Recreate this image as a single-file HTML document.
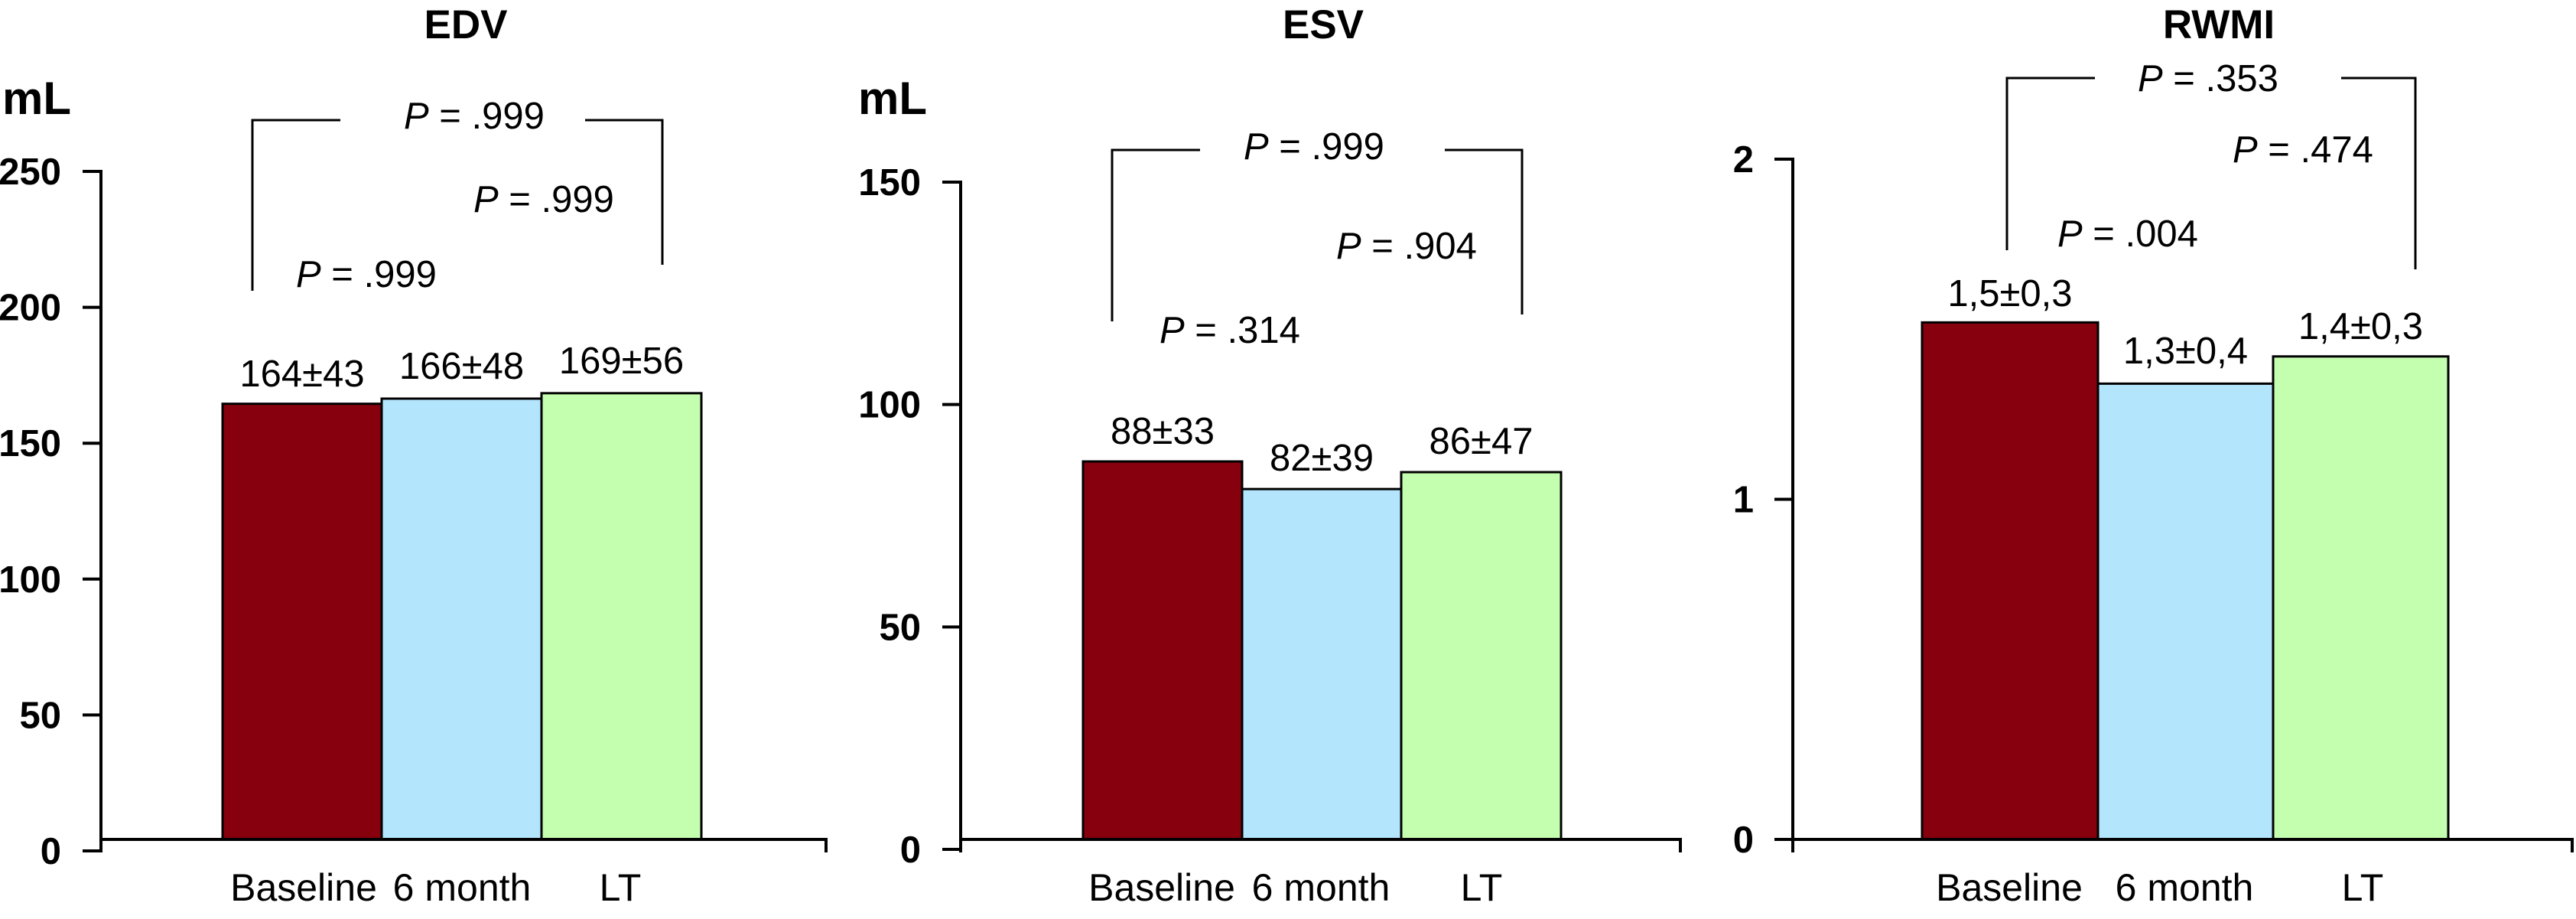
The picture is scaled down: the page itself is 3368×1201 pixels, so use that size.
<!DOCTYPE html>
<html><head><meta charset="utf-8">
<style>
html,body{margin:0;padding:0;background:#fff;}
svg{display:block;font-family:"Liberation Sans",Arial,sans-serif;}
</style></head>
<body>
<svg id="chart" width="3368" height="1201" viewBox="0 0 3368 1201" xmlns="http://www.w3.org/2000/svg"></svg>
<script>
// ---- data ----
const categories = ["Baseline", "6 month", "LT"];
const edvValues = [164.5, 166.4, 168.4];
const edvLabels = ["164±43", "166±48", "169±56"];
const edvTicks = [0, 50, 100, 150, 200, 250];
const edvPLabels = [".999", ".999", ".999"];
const esvValues = [87.2, 81.0, 84.8];
const esvLabels = ["88±33", "82±39", "86±47"];
const esvTicks = [0, 50, 100, 150];
const esvPLabels = [".999", ".904", ".314"];
const rwmiValues = [1.52, 1.34, 1.42];
const rwmiLabels = ["1,5±0,3", "1,3±0,4", "1,4±0,3"];
const rwmiTicks = [0, 1, 2];
const rwmiPLabels = [".353", ".474", ".004"];
const colors = ["#87000e", "#b3e5fc", "#c4ffb0"];

const svg = document.getElementById('chart');
const NS = 'http://www.w3.org/2000/svg';
function mk(tag, attrs, parent){
  const e = document.createElementNS(NS, tag);
  for (const k in attrs) e.setAttribute(k, attrs[k]);
  (parent||svg).appendChild(e);
  return e;
}

const panels = [
  {key:'edv', title:'EDV', unit:true, values:edvValues, labels:edvLabels, ticks:edvTicks, pl:edvPLabels,
   ax:132, axEnd:1080, base:1097, y0:1112, ytop:224, vmax:250, tx:80, unitX:3, titleX:609,
   bars:[291,499,708,917], catX:[397,604,811], labY:[505,495,488],
   br:{lx:330, top:157, lb:380, lh:445, rs:765, rx:866, rb:346},
   p:[[528,168],[619,277],[387,375]]},
  {key:'esv', title:'ESV', unit:true, values:esvValues, labels:esvLabels, ticks:esvTicks, pl:esvPLabels,
   ax:1256, axEnd:2197, base:1097, y0:1110, ytop:238, vmax:150, tx:1204, unitX:1122, titleX:1730,
   bars:[1416,1624,1832,2041], catX:[1519,1727,1937], labY:[580,615,593],
   br:{lx:1454, top:196, lb:420, lh:1569, rs:1889, rx:1990, rb:411},
   p:[[1626,208],[1747,338],[1516,448]]},
  {key:'rwmi', title:'RWMI', unit:false, values:rwmiValues, labels:rwmiLabels, ticks:rwmiTicks, pl:rwmiPLabels,
   ax:2344, axEnd:3363, base:1097, y0:1097, ytop:208, vmax:2, tx:2293, unitX:0, titleX:2901,
   bars:[2513,2743,2972,3201], catX:[2627,2856,3089], labY:[400,475,443],
   br:{lx:2624, top:102, lb:327, lh:2739, rs:3061, rx:3158, rb:352},
   p:[[2795,119],[2919,212],[2690,322]]}
];

panels.forEach(P => {
  const g = mk('g', {});
  
  
  const y = v => P.y0 - (P.y0 - P.ytop) * v / P.vmax;

  const t = mk('text', {x:P.titleX, y:50, 'font-size':53, 'font-weight':'bold', 'text-anchor':'middle'}, g);
  t.textContent = P.title;
  
  

  if (P.unit) {
    const u = mk('text', {x:P.unitX, y:149, 'font-size':60, 'font-weight':'bold'}, g);
    u.textContent = 'mL';
    
    
  }

  P.values.forEach((v, i) => {
    const top = y(v);
    const r = mk('rect', {x:P.bars[i], y:top, width:P.bars[i+1]-P.bars[i], height:P.base-top,
      fill:colors[i], stroke:'#000', 'stroke-width':3}, g);
    
    
    const lt = mk('text', {x:(P.bars[i]+P.bars[i+1])/2, y:P.labY[i], 'font-size':49, 'text-anchor':'middle'}, g);
    lt.textContent = P.labels[i];
    
    
    const ct = mk('text', {x:P.catX[i], y:1177, 'font-size':50, 'text-anchor':'middle'}, g);
    ct.textContent = categories[i];
    
    
  });

  const ya = mk('line', {x1:P.ax, y1:P.ytop-2, x2:P.ax, y2:P.y0+2, stroke:'#000', 'stroke-width':4}, g);
  
  
  const xa = mk('path', {d:`M${P.ax},${P.base}H${P.axEnd}V1114M${P.ax},${P.base}V1114`, fill:'none', stroke:'#000', 'stroke-width':4}, g);
  
  

  P.ticks.forEach(tv => {
    const ty = y(tv);
    const tk = mk('line', {x1:P.ax-24, y1:ty, x2:P.ax, y2:ty, stroke:'#000', 'stroke-width':4}, g);
    
    
    const tl = mk('text', {x:P.tx, y:ty+17, 'font-size':49, 'font-weight':'bold', 'text-anchor':'end'}, g);
    tl.textContent = String(tv);
    
    
  });

  const b = P.br;
  const bp = mk('path', {d:`M${b.lx},${b.lb}V${b.top}H${b.lh}M${b.rs},${b.top}H${b.rx}V${b.rb}`, fill:'none', stroke:'#000', 'stroke-width':3}, g);
  
  

  P.p.forEach((pp, i) => {
    const pt = mk('text', {x:pp[0], y:pp[1], 'font-size':49}, g);
    const it = mk('tspan', {'font-style':'italic'}, pt);
    it.textContent = 'P';
    const rest = mk('tspan', {}, pt);
    rest.textContent = ' = ' + P.pl[i];
    
    
  });
});
</script>
</body></html>
